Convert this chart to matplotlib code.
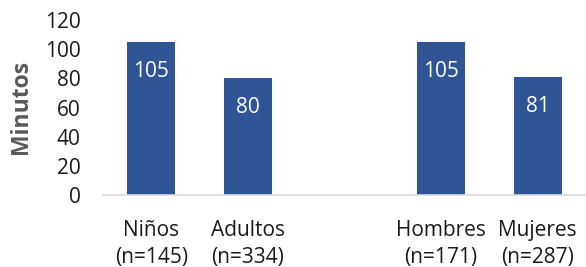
import matplotlib.pyplot as plt

plt.rcParams['font.family'] = ['Open Sans', 'DejaVu Sans']

# datos
categorias = ["Niños\n(n=145)", "Adultos\n(n=334)", "", "Hombres\n(n=171)", "Mujeres\n(n=287)"]
minutos = [105, 80, None, 105, 81]
yticks = [0, 20, 40, 60, 80, 100, 120]

fig = plt.figure(figsize=(5.86, 2.67), dpi=100)
ax = fig.add_axes([103 / 586, 72 / 267, 483 / 586, 175 / 267])

pos = [i for i, v in enumerate(minutos) if v is not None]
vals = [v for v in minutos if v is not None]
bars = ax.bar(pos, vals, width=0.5, color="#2F5597")

for x, v in zip(pos, vals):
    ax.annotate(str(v), (x, v), xytext=(0, -21), textcoords="offset points",
                ha="center", va="center", color="white", fontsize=15)

ax.set_xlim(-0.5, len(categorias) - 0.5)
ax.set_ylim(0, 120)
ax.set_yticks(yticks)
ax.set_xticks(range(len(categorias)))
ax.set_xticklabels(categorias, linespacing=1.4)
ax.tick_params(axis="y", length=0, pad=16, labelsize=15, labelcolor="#1a1a1a")
ax.tick_params(axis="x", length=0, pad=18, labelsize=15, labelcolor="#1a1a1a")

for s in ["top", "right", "left"]:
    ax.spines[s].set_visible(False)
ax.spines["bottom"].set_color("#D9D9D9")
ax.spines["bottom"].set_linewidth(1.2)

fig.text(21 / 586, 1 - 107 / 267, "Minutos", rotation=90, ha="center", va="center",
         fontsize=16.5, fontweight="bold", color="#595959")

fig.savefig("out.png", dpi=100)
